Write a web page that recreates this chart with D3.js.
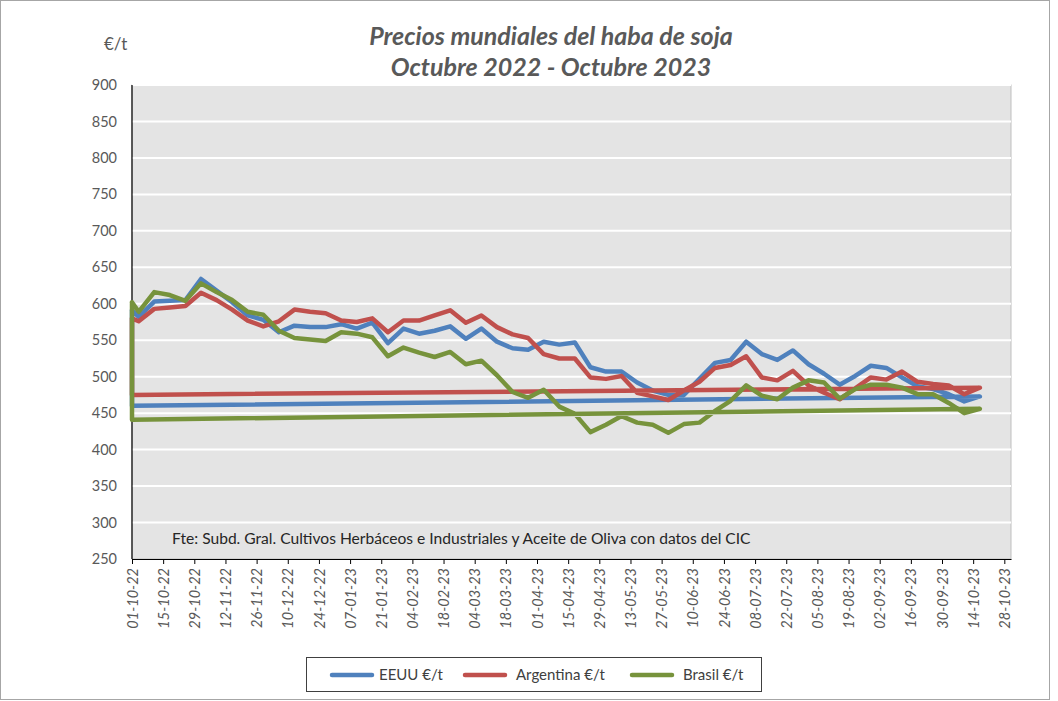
<!DOCTYPE html>
<html>
<head>
<meta charset="utf-8">
<script src="https://cdn.jsdelivr.net/npm/d3@7"></script>
<style>
  body { margin: 0; background: #fff; }
  text { font-family: Lato, "Open Sans", sans-serif; }
</style>
</head>
<body>
<svg id="chart"></svg>
<script>
// weekly quotes, first entry is the opening point
const dates = ['01-10-22',
  '04-10-22','11-10-22','18-10-22','25-10-22','01-11-22','08-11-22','15-11-22','22-11-22','29-11-22',
  '06-12-22','13-12-22','20-12-22','27-12-22','03-01-23','10-01-23','17-01-23','24-01-23','31-01-23',
  '07-02-23','14-02-23','21-02-23','28-02-23','07-03-23','14-03-23','21-03-23','28-03-23','04-04-23',
  '11-04-23','18-04-23','25-04-23','02-05-23','09-05-23','16-05-23','23-05-23','30-05-23','06-06-23',
  '13-06-23','20-06-23','27-06-23','04-07-23','11-07-23','18-07-23','25-07-23','01-08-23','08-08-23',
  '15-08-23','22-08-23','29-08-23','05-09-23','12-09-23','19-09-23','26-09-23','03-10-23','10-10-23','17-10-23'];

const eeuu = [591,
  582,603,604,605,634,618,602,584,578,561,570,568,568,572,
  566,574,546,566,559,563,569,552,566,548,539,537,548,544,
  547,513,507,507,492,481,475,475,497,519,523,548,531,523,
  536,517,504,489,501,515,512,499,487,483,476,466,473];
const argentina = [580,
  576,593,595,597,615,605,592,577,569,576,592,589,587,577,
  575,580,561,577,577,584,591,574,584,568,558,553,531,525,
  525,499,497,501,478,473,468,481,493,512,516,528,499,495,
  508,488,478,469,484,499,496,507,493,490,488,476,485];
const brasil = [602,
  589,616,612,604,628,616,605,589,585,563,553,551,549,561,
  559,554,528,540,533,527,534,517,522,502,479,471,482,459,
  449,424,434,446,437,434,423,435,437,453,467,488,474,469,
  485,495,492,470,483,489,489,485,476,476,464,450,456];
// trailing value each series closes with (drawn back at the first date)
const tails = [460, 475, 441];

const seriesNames = ['EEUU €/t', 'Argentina €/t', 'Brasil €/t'];
const seriesColors = ['#4f81bd', '#c0504d', '#77933c'];
const yTicks = [250,300,350,400,450,500,550,600,650,700,750,800,850,900];

const W = 1058, H = 701;
const parse = d3.utcParse('%d-%m-%y');
const fmt = d3.utcFormat('%d-%m-%y');

const svg = d3.select('#chart').attr('width', W).attr('height', H);

svg.append('rect').attr('x', 0.5).attr('y', 0.5).attr('width', 1049).attr('height', 699)
  .attr('fill', '#fff').attr('stroke', '#a6a6a6');

const pLeft = 132, pRight = 1011, pTop = 85, pBottom = 559;

const x = d3.scaleUtc().domain([parse('01-10-22'), parse('31-10-23')]).range([pLeft, pRight]);
const y = d3.scaleLinear().domain([250, 900]).range([pBottom, pTop]);

svg.append('rect').attr('x', pLeft).attr('y', pTop).attr('width', pRight - pLeft).attr('height', pBottom - pTop)
  .attr('fill', '#e4e4e4').attr('stroke', '#bfbfbf');

// gridlines
svg.append('g').selectAll('line').data(yTicks.filter(d => d > 250)).enter().append('line')
  .attr('x1', pLeft).attr('x2', pRight)
  .attr('y1', d => y(d)).attr('y2', d => y(d))
  .attr('stroke', '#fff').attr('stroke-width', 2);

// y axis labels
svg.append('g').selectAll('text').data(yTicks).enter().append('text')
  .attr('x', 117).attr('y', d => y(d)).attr('dy', '0.35em')
  .attr('text-anchor', 'end').attr('font-size', 14.5).attr('fill', '#595959')
  .text(d => d);

svg.append('line').attr('x1', pLeft).attr('x2', pLeft).attr('y1', pTop).attr('y2', pBottom)
  .attr('stroke', '#000').attr('stroke-width', 1.2);

// x axis, every 14 days
const xTickVals = d3.range(0, 29).map(i => d3.utcDay.offset(parse('01-10-22'), i * 14));
const xAxis = d3.axisBottom(x).tickValues(xTickVals).tickFormat(fmt).tickSizeInner(5).tickSizeOuter(0);
const gx = svg.append('g').attr('transform', `translate(0,${pBottom})`).call(xAxis);
gx.select('.domain').attr('stroke', '#000').attr('stroke-width', 1.2);
gx.selectAll('.tick line').attr('stroke', '#000');
gx.selectAll('.tick text')
  .attr('font-size', 14.5).attr('font-style', 'italic').attr('fill', '#595959')
  .attr('font-family', 'Lato, sans-serif')
  .attr('text-anchor', 'end').attr('transform', 'rotate(-90)')
  .attr('x', -9).attr('y', 0).attr('dy', '0.35em');

// series
const allVals = [eeuu, argentina, brasil];
const line = d3.line().x(d => x(d[0])).y(d => y(d[1]));
allVals.forEach((vals, i) => {
  const pts = dates.map((d, j) => [parse(d), vals[j]]);
  pts.push([parse(dates[0]), tails[i]]);
  pts.push(pts[0]);
  svg.append('path').datum(pts)
    .attr('d', line)
    .attr('fill', 'none').attr('stroke', seriesColors[i])
    .attr('stroke-width', 4.5).attr('stroke-linejoin', 'round').attr('stroke-linecap', 'round');
});

// titles
svg.append('text').attr('x', 551).attr('y', 45).attr('text-anchor', 'middle')
  .attr('font-size', 25).attr('font-weight', 'bold').attr('font-style', 'italic').attr('fill', '#595959')
  .text('Precios mundiales del haba de soja');
svg.append('text').attr('x', 551).attr('y', 76).attr('text-anchor', 'middle')
  .attr('font-size', 25).attr('font-weight', 'bold').attr('font-style', 'italic').attr('fill', '#595959')
  .text('Octubre 2022 - Octubre 2023');
svg.append('text').attr('x', 104).attr('y', 50)
  .attr('font-size', 17).attr('fill', '#595959').text('€/t');

svg.append('text').attr('x', 172).attr('y', 544)
  .attr('font-size', 15.6).attr('fill', '#262626')
  .text('Fte: Subd. Gral. Cultivos Herbáceos e Industriales y Aceite de Oliva con datos del CIC');

// legend
const lg = svg.append('g');
lg.append('rect').attr('x', 306.5).attr('y', 657.5).attr('width', 455).attr('height', 34)
  .attr('fill', '#fff').attr('stroke', '#404040');
const legX = [332, 465, 632];
seriesNames.forEach((n, i) => {
  lg.append('line').attr('x1', legX[i]).attr('x2', legX[i] + 40).attr('y1', 675).attr('y2', 675)
    .attr('stroke', seriesColors[i]).attr('stroke-width', 4.5).attr('stroke-linecap', 'round');
  lg.append('text').attr('x', legX[i] + 47 + (i > 0 ? 4 : 0)).attr('y', 675).attr('dy', '0.35em')
    .attr('font-size', 15).attr('fill', '#404040').text(n);
});
</script>
</body>
</html>
